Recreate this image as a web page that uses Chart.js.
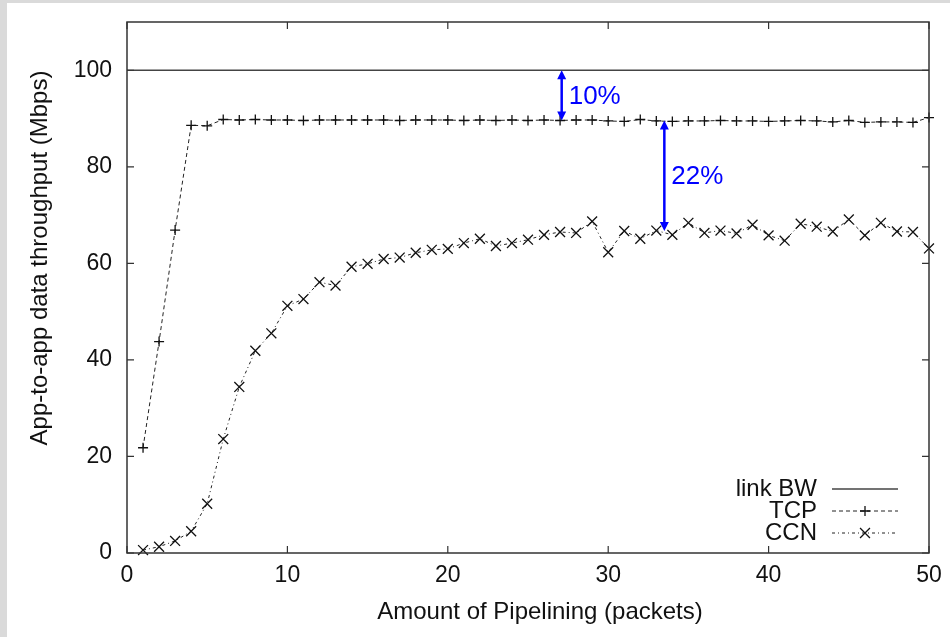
<!DOCTYPE html>
<html>
<head>
<meta charset="utf-8">
<script src="https://cdn.jsdelivr.net/npm/chart.js@4/dist/chart.umd.min.js"></script>
<style>
    html, body { margin: 0; padding: 0; background: #dadada; }
    #wrap { position: absolute; left: 7px; top: 3px; width: 943px; height: 634px; background: #fff; }
</style>
</head>
<body>
<div id="wrap"><canvas id="chart" width="943" height="634"></canvas></div>
<script>
// Datos
const pipelining = [1, 2, 3, 4, 5, 6, 7, 8, 9, 10, 11, 12, 13, 14, 15, 16, 17, 18, 19, 20,
    21, 22, 23, 24, 25, 26, 27, 28, 29, 30, 31, 32, 33, 34, 35, 36, 37, 38, 39, 40,
    41, 42, 43, 44, 45, 46, 47, 48, 49, 50];
const tcp = [21.8, 43.8, 66.9, 88.6, 88.5, 89.8, 89.7, 89.8, 89.7, 89.7, 89.6, 89.7, 89.7, 89.7, 89.7, 89.7, 89.6, 89.7, 89.7, 89.7,
    89.6, 89.7, 89.6, 89.7, 89.6, 89.7, 89.6, 89.7, 89.7, 89.5, 89.4, 89.8, 89.5, 89.4, 89.5, 89.5, 89.6, 89.5, 89.5, 89.4,
    89.5, 89.6, 89.5, 89.3, 89.6, 89.2, 89.3, 89.3, 89.2, 90.2];
const ccn = [0.6, 1.3, 2.5, 4.5, 10.2, 23.6, 34.4, 41.9, 45.5, 51.2, 52.6, 56.1, 55.4, 59.3, 59.9, 60.9, 61.2, 62.2, 62.8, 63.0,
    64.2, 65.1, 63.6, 64.2, 64.9, 65.9, 66.5, 66.3, 68.7, 62.3, 66.7, 65.1, 66.8, 65.9, 68.4, 66.3, 66.8, 66.2, 68.0, 65.8,
    64.7, 68.2, 67.6, 66.6, 69.1, 65.8, 68.4, 66.6, 66.5, 63.1];
const linkX = [0, 50];
const linkBW = [100, 100];

const xTicks = [0, 10, 20, 30, 40, 50];
const yTicks = [0, 20, 40, 60, 80, 100];

// Flechas azules (diferencias)
const arrowX = [27.1, 33.5];
const arrowTop = [100, 89.6];
const arrowBottom = [89.6, 66.7];
const arrowLabel = ['10%', '22%'];

const FONT = '"Liberation Sans", Arial, Helvetica, sans-serif';

function points(xs, ys) {
    return xs.map((x, i) => ({ x: x, y: ys[i] }));
}

// Marco con ticks hacia adentro, titulos, leyenda y flechas
const decorPlugin = {
    id: 'decor',
    afterDraw(chart) {
        const ctx = chart.ctx;
        const a = chart.chartArea;
        const xs = chart.scales.x;
        const ys = chart.scales.y;
        ctx.save();

        // marco
        ctx.strokeStyle = '#333';
        ctx.lineWidth = 1.5;
        ctx.strokeRect(a.left, a.top, a.right - a.left, a.bottom - a.top);

        // ticks
        ctx.lineWidth = 1.2;
        ctx.beginPath();
        xTicks.forEach(v => {
            const px = xs.getPixelForValue(v);
            ctx.moveTo(px, a.bottom); ctx.lineTo(px, a.bottom - 7);
            ctx.moveTo(px, a.top); ctx.lineTo(px, a.top + 7);
        });
        yTicks.forEach(v => {
            const py = ys.getPixelForValue(v);
            ctx.moveTo(a.left, py); ctx.lineTo(a.left + 7, py);
            ctx.moveTo(a.right, py); ctx.lineTo(a.right - 7, py);
        });
        ctx.stroke();

        // titulos de ejes
        ctx.fillStyle = '#111';
        ctx.font = '24px ' + FONT;
        ctx.textAlign = 'center';
        ctx.textBaseline = 'middle';
        ctx.fillText('Amount of Pipelining (packets)', 533, 609);
        ctx.save();
        ctx.translate(33, 255);
        ctx.rotate(-Math.PI / 2);
        ctx.fillText('App-to-app data throughput (Mbps)', 0, 0);
        ctx.restore();

        // leyenda
        const legendY = [486, 508, 530];
        chart.data.datasets.forEach((ds, i) => {
            const y = legendY[i];
            ctx.fillStyle = '#111';
            ctx.textAlign = 'right';
            ctx.fillText(ds.label, 810, y);
            ctx.strokeStyle = ds.borderColor;
            ctx.lineWidth = ds.borderWidth;
            ctx.setLineDash(ds.borderDash || []);
            ctx.beginPath();
            ctx.moveTo(825, y); ctx.lineTo(891, y);
            ctx.stroke();
            ctx.setLineDash([]);
            if (ds.pointRadius > 0) {
                ctx.strokeStyle = ds.pointBorderColor;
                ctx.lineWidth = ds.pointBorderWidth;
                Chart.helpers.drawPoint(ctx, { pointStyle: ds.pointStyle, radius: ds.pointRadius, borderWidth: ds.pointBorderWidth }, 858, y);
            }
        });

        // flechas
        ctx.strokeStyle = '#0000ff';
        ctx.fillStyle = '#0000ff';
        ctx.lineWidth = 2.5;
        arrowX.forEach((v, i) => {
            const px = xs.getPixelForValue(v);
            const y1 = ys.getPixelForValue(arrowTop[i]);
            const y2 = ys.getPixelForValue(arrowBottom[i]);
            ctx.beginPath();
            ctx.moveTo(px, y1 + 6); ctx.lineTo(px, y2 - 6);
            ctx.stroke();
            ctx.beginPath();
            ctx.moveTo(px, y1); ctx.lineTo(px - 4.5, y1 + 9); ctx.lineTo(px + 4.5, y1 + 9); ctx.closePath();
            ctx.moveTo(px, y2); ctx.lineTo(px - 4.5, y2 - 9); ctx.lineTo(px + 4.5, y2 - 9); ctx.closePath();
            ctx.fill();
            ctx.textAlign = 'left';
            ctx.font = '26px ' + FONT;
            ctx.fillText(arrowLabel[i], px + 7, (y1 + y2) / 2 + 1);
        });

        ctx.restore();
    }
};

new Chart(document.getElementById('chart'), {
    type: 'line',
    data: {
        datasets: [{
            label: 'link BW',
            data: points(linkX, linkBW),
            borderColor: '#444',
            borderWidth: 1.5,
            pointRadius: 0,
            clip: false
        }, {
            label: 'TCP',
            data: points(pipelining, tcp),
            borderColor: '#222',
            borderWidth: 1,
            borderDash: [4, 3],
            pointStyle: 'cross',
            pointRadius: 5,
            pointBorderColor: '#111',
            pointBorderWidth: 1.3,
            clip: false
        }, {
            label: 'CCN',
            data: points(pipelining, ccn),
            borderColor: '#222',
            borderWidth: 1,
            borderDash: [3, 3, 1, 3],
            pointStyle: 'crossRot',
            pointRadius: 7,
            pointBorderColor: '#111',
            pointBorderWidth: 1.3,
            clip: false
        }]
    },
    options: {
        responsive: false,
        animation: false,
        layout: { padding: { top: 19, right: 21, left: 0, bottom: 0 } },
        plugins: {
            legend: { display: false },
            tooltip: { enabled: false }
        },
        scales: {
            x: {
                type: 'linear',
                min: 0,
                max: 50,
                afterBuildTicks: s => { s.ticks = xTicks.map(v => ({ value: v })); },
                afterFit: s => { s.height = 84; s.paddingLeft = 0; s.paddingRight = 0; },
                grid: { display: false, drawTicks: false },
                border: { display: false },
                ticks: { padding: 9, color: '#111', font: { family: FONT, size: 23 } }
            },
            y: {
                min: 0,
                max: 110,
                afterBuildTicks: s => { s.ticks = yTicks.map(v => ({ value: v })); },
                afterFit: s => { s.width = 120; s.paddingTop = 0; s.paddingBottom = 0; },
                grid: { display: false, drawTicks: false },
                border: { display: false },
                ticks: { padding: 15, color: '#111', font: { family: FONT, size: 23 } }
            }
        }
    },
    plugins: [decorPlugin]
});
</script>
</body>
</html>
